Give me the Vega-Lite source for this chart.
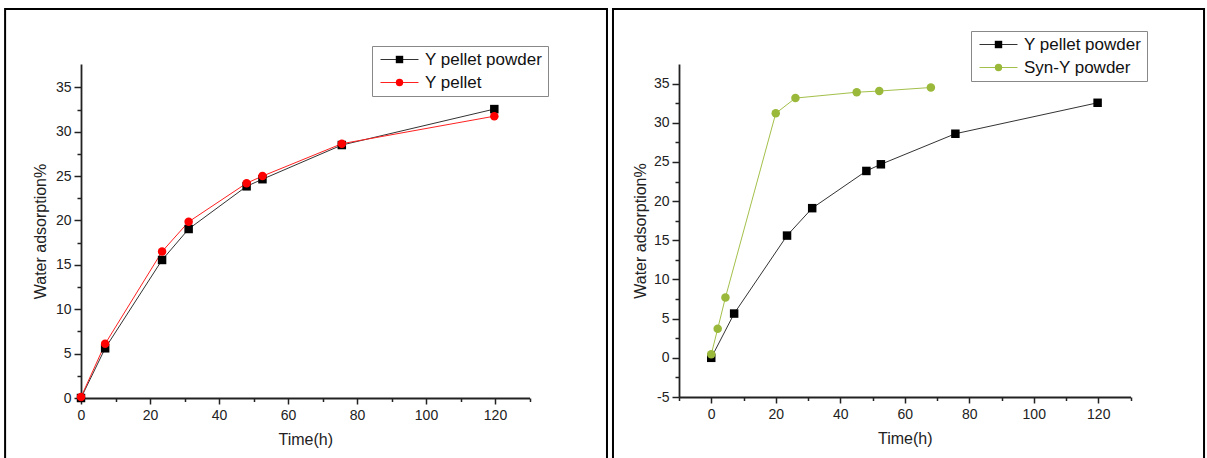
{
  "$schema": "https://vega.github.io/schema/vega-lite/v6.json",
  "padding": {"left": 4, "top": 7, "right": 0, "bottom": 0},
  "spacing": 3,
  "resolve": {
    "scale": {"color": "independent", "shape": "independent", "stroke": "independent"},
    "legend": {"color": "independent", "shape": "independent", "stroke": "independent"}
  },
  "datasets": {
    "left": [
      {"series": "Y pellet powder", "time": 0, "wa": 0},
      {"series": "Y pellet powder", "time": 7, "wa": 5.6},
      {"series": "Y pellet powder", "time": 23.5, "wa": 15.55},
      {"series": "Y pellet powder", "time": 31.2, "wa": 19.04},
      {"series": "Y pellet powder", "time": 48, "wa": 23.85},
      {"series": "Y pellet powder", "time": 52.6, "wa": 24.65},
      {"series": "Y pellet powder", "time": 75.6, "wa": 28.5},
      {"series": "Y pellet powder", "time": 119.8, "wa": 32.55},
      {"series": "Y pellet", "time": 0, "wa": 0.1},
      {"series": "Y pellet", "time": 7, "wa": 6.1},
      {"series": "Y pellet", "time": 23.5, "wa": 16.5},
      {"series": "Y pellet", "time": 31.2, "wa": 19.85},
      {"series": "Y pellet", "time": 48, "wa": 24.2},
      {"series": "Y pellet", "time": 52.6, "wa": 25.0},
      {"series": "Y pellet", "time": 75.6, "wa": 28.65},
      {"series": "Y pellet", "time": 119.8, "wa": 31.75}
    ],
    "right": [
      {"series": "Y pellet powder", "time": 0, "wa": 0},
      {"series": "Y pellet powder", "time": 7.1, "wa": 5.65},
      {"series": "Y pellet powder", "time": 23.5, "wa": 15.6},
      {"series": "Y pellet powder", "time": 31.3, "wa": 19.1},
      {"series": "Y pellet powder", "time": 48.1, "wa": 23.85},
      {"series": "Y pellet powder", "time": 52.6, "wa": 24.7},
      {"series": "Y pellet powder", "time": 75.7, "wa": 28.6},
      {"series": "Y pellet powder", "time": 119.8, "wa": 32.55},
      {"series": "Syn-Y powder", "time": 0, "wa": 0.45},
      {"series": "Syn-Y powder", "time": 2, "wa": 3.7},
      {"series": "Syn-Y powder", "time": 4.4, "wa": 7.7},
      {"series": "Syn-Y powder", "time": 20, "wa": 31.2},
      {"series": "Syn-Y powder", "time": 26.1, "wa": 33.15},
      {"series": "Syn-Y powder", "time": 45.1, "wa": 33.9},
      {"series": "Syn-Y powder", "time": 52.1, "wa": 34.05},
      {"series": "Syn-Y powder", "time": 68.1, "wa": 34.5}
    ]
  },
  "hconcat": [
    {
      "width": 448.5,
      "height": 334,
      "resolve": {"axis": {"x": "independent", "y": "independent"}},
      "layer": [
        {
          "data": {"values": [{}]},
          "mark": {"type": "rect", "filled": false, "stroke": "#000", "strokeWidth": 2},
          "encoding": {
            "x": {"datum": -22.0, "type": "quantitative", "scale": {"domain": [0, 130], "nice": false, "zero": false}, "axis": null},
            "x2": {"datum": 152.46},
            "y": {"datum": 43.82, "type": "quantitative", "scale": {"domain": [0, 37.63], "nice": false, "zero": false}, "axis": null},
            "y2": {"datum": -10}
          }
        },
        {
          "data": {"name": "left"},
          "mark": {"type": "line", "strokeWidth": 1},
          "encoding": {
            "x": {"field": "time", "type": "quantitative", "scale": {"domain": [0, 130], "nice": false, "zero": false},
                  "axis": {"orient": "bottom", "values": [0, 20, 40, 60, 80, 100, 120], "tickSize": 6, "labelPadding": 4, "title": "Time(h)", "titlePadding": 9}},
            "y": {"field": "wa", "type": "quantitative", "scale": {"domain": [0, 37.63], "nice": false, "zero": false},
                  "axis": {"orient": "left", "values": [0, 5, 10, 15, 20, 25, 30, 35], "tickSize": 7, "labelPadding": 3, "title": "Water adsorption%", "titlePadding": 7}},
            "stroke": {"field": "series", "type": "nominal", "scale": {"domain": ["Y pellet", "Y pellet powder"], "range": ["#ff2020", "#333333"]},
                       "legend": {"title": null, "orient": "none", "legendX": 291, "legendY": -18, "values": ["Y pellet powder", "Y pellet"],
                                  "symbolType": "M-4.22,0H4.22", "symbolSize": 81, "symbolStrokeWidth": 1,
                                  "symbolOffset": 14, "labelOffset": 17, "labelColor": "transparent",
                                  "strokeColor": "transparent", "fillColor": "transparent", "zindex": 0}}
          }
        },
        {
          "data": {"name": "left"},
          "mark": {"type": "point", "filled": true, "opacity": 1, "size": 72},
          "encoding": {
            "x": {"field": "time", "type": "quantitative", "scale": {"domain": [0, 130], "nice": false, "zero": false},
                  "axis": {"orient": "bottom", "values": [10, 30, 50, 70, 90, 110, 130], "tickSize": 3.5, "labels": false, "domain": false, "title": null}},
            "y": {"field": "wa", "type": "quantitative", "scale": {"domain": [0, 37.63], "nice": false, "zero": false},
                  "axis": {"orient": "left", "values": [2.5, 7.5, 12.5, 17.5, 22.5, 27.5, 32.5], "tickSize": 4, "labels": false, "domain": false, "title": null}},
            "color": {"field": "series", "type": "nominal", "scale": {"domain": ["Y pellet powder", "Y pellet"], "range": ["#000000", "#ff0000"]},
                      "legend": {"title": null, "orient": "none", "legendX": 291, "legendY": -18, "symbolSize": 55,
                                 "symbolOffset": 14, "labelOffset": 17, "symbolStrokeWidth": 0, "zindex": 1}},
            "shape": {"field": "series", "type": "nominal", "scale": {"domain": ["Y pellet powder", "Y pellet"], "range": ["square", "circle"]}}
          }
        }
      ]
    },
    {
      "width": 451.5,
      "height": 333,
      "resolve": {"axis": {"x": "independent", "y": "independent"}},
      "layer": [
        {
          "data": {"values": [{}]},
          "mark": {"type": "rect", "filled": false, "stroke": "#000", "strokeWidth": 2},
          "encoding": {
            "x": {"datum": -30.47, "type": "quantitative", "scale": {"domain": [-10, 130], "nice": false, "zero": false}, "axis": null},
            "x2": {"datum": 152.8},
            "y": {"datum": 44.52, "type": "quantitative", "scale": {"domain": [-5, 37.5], "nice": false, "zero": false}, "axis": null},
            "y2": {"datum": -15}
          }
        },
        {
          "data": {"name": "right"},
          "mark": {"type": "line", "strokeWidth": 1},
          "encoding": {
            "x": {"field": "time", "type": "quantitative", "scale": {"domain": [-10, 130], "nice": false, "zero": false},
                  "axis": {"orient": "bottom", "values": [0, 20, 40, 60, 80, 100, 120], "tickSize": 6, "labelPadding": 4, "title": "Time(h)", "titlePadding": 9}},
            "y": {"field": "wa", "type": "quantitative", "scale": {"domain": [-5, 37.5], "nice": false, "zero": false},
                  "axis": {"orient": "left", "values": [-5, 0, 5, 10, 15, 20, 25, 30, 35], "tickSize": 7, "labelPadding": 3, "labelExpr": "'' + datum.value", "title": "Water adsorption%", "titlePadding": 5}},
            "stroke": {"field": "series", "type": "nominal", "scale": {"domain": ["Syn-Y powder", "Y pellet powder"], "range": ["#a3c04a", "#333333"]},
                       "legend": {"title": null, "orient": "none", "legendX": 292, "legendY": -33, "values": ["Y pellet powder", "Syn-Y powder"],
                                  "symbolType": "M-4.22,0H4.22", "symbolSize": 81, "symbolStrokeWidth": 1,
                                  "symbolOffset": 14, "labelOffset": 17, "labelColor": "transparent",
                                  "strokeColor": "transparent", "fillColor": "transparent", "zindex": 0}}
          }
        },
        {
          "data": {"name": "right"},
          "mark": {"type": "point", "filled": true, "opacity": 1, "size": 72},
          "encoding": {
            "x": {"field": "time", "type": "quantitative", "scale": {"domain": [-10, 130], "nice": false, "zero": false},
                  "axis": {"orient": "bottom", "values": [-10, 10, 30, 50, 70, 90, 110, 130], "tickSize": 3.5, "labels": false, "domain": false, "title": null}},
            "y": {"field": "wa", "type": "quantitative", "scale": {"domain": [-5, 37.5], "nice": false, "zero": false},
                  "axis": {"orient": "left", "values": [-2.5, 2.5, 7.5, 12.5, 17.5, 22.5, 27.5, 32.5], "tickSize": 4, "labels": false, "domain": false, "title": null}},
            "color": {"field": "series", "type": "nominal", "scale": {"domain": ["Y pellet powder", "Syn-Y powder"], "range": ["#000000", "#9ab93a"]},
                      "legend": {"title": null, "orient": "none", "legendX": 292, "legendY": -33, "symbolSize": 55,
                                 "symbolOffset": 14, "labelOffset": 17, "symbolStrokeWidth": 0, "zindex": 1}},
            "shape": {"field": "series", "type": "nominal", "scale": {"domain": ["Y pellet powder", "Syn-Y powder"], "range": ["square", "circle"]}}
          }
        }
      ]
    }
  ],
  "config": {
    "font": "Liberation Sans",
    "view": {"stroke": null},
    "axis": {
      "grid": false,
      "domainColor": "#222222",
      "domainWidth": 1.8,
      "tickColor": "#222222",
      "tickWidth": 1.5,
      "labelFontSize": 14,
      "labelColor": "#222222",
      "labelFlush": false,
      "labelOverlap": false,
      "titleFontSize": 16,
      "titleFontWeight": "normal",
      "titleColor": "#222222"
    },
    "legend": {
      "labelFontSize": 17,
      "labelColor": "#111111",
      "strokeColor": "#888888",
      "fillColor": "transparent",
      "padding": 5,
      "rowPadding": 5
    }
  }
}
